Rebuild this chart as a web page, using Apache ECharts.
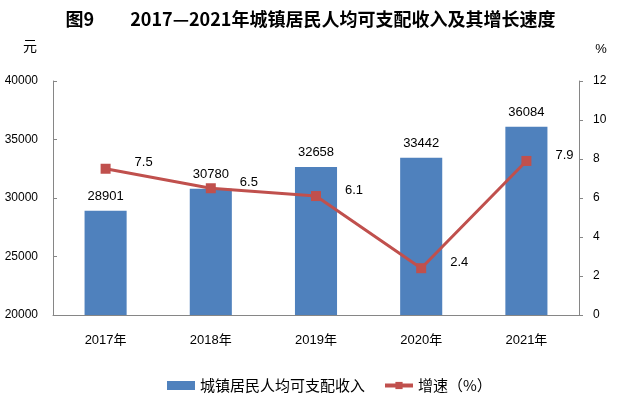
<!DOCTYPE html>
<html>
<head>
<meta charset="UTF-8">
<title>图9</title>
<script src="https://cdn.jsdelivr.net/npm/echarts@6/dist/echarts.min.js"></script>
<style>
html, body { margin: 0; padding: 0; background: #fff; }
#container { width: 621px; height: 415px; }
</style>
</head>
<body>
	<div id="container"></div>
	<script type="text/javascript">
	var years = ['2017年', '2018年', '2019年', '2020年', '2021年'];   // 类目
	var income = [28901, 30780, 32658, 33442, 36084];              // 城镇居民人均可支配收入（元）
	var growth = [7.5, 6.5, 6.1, 2.4, 7.9];                        // 增速（%）

	var numFont = 'Liberation Sans, Noto Sans CJK SC, sans-serif';
	var cnFont = 'Noto Sans CJK SC, sans-serif';

	var myChart = echarts.init(document.getElementById('container'));
	var option = {
		backgroundColor: '#fff',
		animation: false,
		title: {
			text: '图9　　2017—2021年城镇居民人均可支配收入及其增长速度',
			left: 'center',
			top: 5,
			textStyle: { fontSize: 18, fontWeight: 'bold', color: '#000', fontFamily: cnFont }
		},
		legend: {
			bottom: 17,
			left: 162,
			itemGap: 18,
			itemWidth: 28,
			itemHeight: 9,
			textStyle: { fontSize: 15, color: '#000', fontFamily: cnFont },
			data: [
				{ name: '城镇居民人均可支配收入', icon: 'rect', itemStyle: { color: '#4f81bd' } },
				{ name: '增速（%）', lineStyle: { width: 4, color: '#c0504d' } }
			]
		},
		grid: { left: 53, right: 42, top: 81, bottom: 100 },
		xAxis: {
			type: 'category',
			data: years,
			axisLine: { lineStyle: { color: '#868686', width: 1 } },
			axisTick: { show: false },
			axisLabel: { color: '#000', fontSize: 13, margin: 19, fontFamily: numFont }
		},
		yAxis: [
			{
				type: 'value',
				name: '元',
				nameLocation: 'end',
				nameGap: 28,
				nameTextStyle: { color: '#000', fontSize: 14, fontFamily: cnFont, padding: [0, 46, 0, 0] },
				min: 20000,
				max: 40000,
				interval: 5000,
				splitLine: { show: false },
				axisLine: { show: true, lineStyle: { color: '#868686' } },
				axisTick: { show: true, inside: true, length: 4, lineStyle: { color: '#868686' } },
				axisLabel: { color: '#000', fontSize: 12, margin: 15, fontFamily: numFont, formatter: function (v) { return String(v); } }
			},
			{
				type: 'value',
				name: '%',
				nameLocation: 'end',
				nameGap: 25,
				nameTextStyle: { color: '#000', fontSize: 13, fontFamily: numFont, padding: [0, 0, 0, 44] },
				min: 0,
				max: 12,
				interval: 2,
				splitLine: { show: false },
				axisLine: { show: true, lineStyle: { color: '#868686' } },
				axisTick: { show: true, inside: false, length: 4, lineStyle: { color: '#868686' } },
				axisLabel: { color: '#000', fontSize: 12, margin: 14, fontFamily: numFont }
			}
		],
		series: [
			{
				name: '城镇居民人均可支配收入',
				type: 'bar',
				yAxisIndex: 0,
				barWidth: '40%',
				data: income,
				itemStyle: { color: '#4f81bd' },
				label: {
					show: true,
					position: 'top',
					distance: 8,
					color: '#000',
					fontSize: 13,
					fontFamily: numFont
				}
			},
			{
				name: '增速（%）',
				type: 'line',
				yAxisIndex: 1,
				data: growth,
				symbol: 'rect',
				symbolSize: 10,
				lineStyle: { color: '#c0504d', width: 3 },
				itemStyle: { color: '#c0504d' },
				label: {
					show: true,
					position: 'right',
					distance: 24,
					offset: [0, -6],
					color: '#000',
					fontSize: 13,
					fontFamily: numFont
				}
			}
		]
	};
	myChart.setOption(option);
	</script>
</body>
</html>
